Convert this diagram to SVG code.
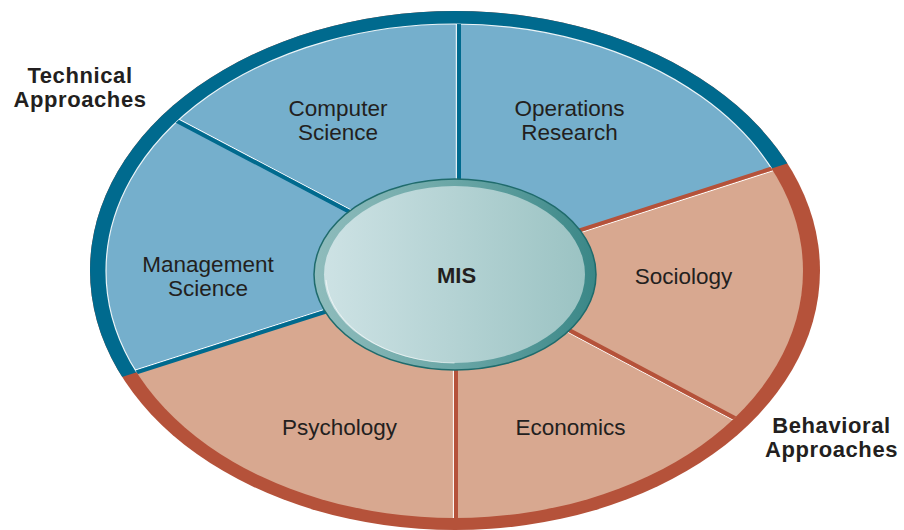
<svg xmlns="http://www.w3.org/2000/svg" width="904" height="530" viewBox="0 0 904 530">
  <defs>
    <clipPath id="outerClip"><ellipse cx="455" cy="270.5" rx="365" ry="259.5"/></clipPath>
    <clipPath id="innerClip"><ellipse cx="454.5" cy="271" rx="348.5" ry="247"/></clipPath>
    <clipPath id="blueHalf"><polygon points="0,0 904,0 904,126 0,416"/></clipPath>
    <linearGradient id="rimGrad" x1="0" y1="0" x2="1" y2="0">
      <stop offset="0" stop-color="#8fbcbc"/>
      <stop offset="0.5" stop-color="#6aa6a6"/>
      <stop offset="1" stop-color="#3a8787"/>
    </linearGradient>
    <linearGradient id="coreGrad" x1="0" y1="0" x2="1" y2="0">
      <stop offset="0" stop-color="#cde2e4"/>
      <stop offset="1" stop-color="#9bc3c3"/>
    </linearGradient>
  </defs>
  <style>
    .blue { fill: #75afcc; }
    .salmon { fill: #d8a890; }
    .lbl { font-family: "Liberation Sans", Arial, sans-serif; font-size: 22.5px; fill: #231f20; text-anchor: middle; }
    .bold { font-weight: bold; font-size: 22px; }
    .side { font-family: "Liberation Sans", Arial, sans-serif; font-size: 22px; font-weight: bold; fill: #231f20; text-anchor: middle; letter-spacing: 0.6px; }
    .spokeB { stroke: #006a8e; stroke-width: 4; fill: none; }
    .spokeR { stroke: #b5523a; stroke-width: 4; fill: none; }
    .hl { stroke: #ffffff; stroke-width: 1; fill: none; }
  </style>

  <!-- outer band -->
  <g id="band">
    <ellipse cx="455" cy="270.5" rx="365" ry="259.5" fill="#b5523a"/>
    <polygon points="0,0 904,0 904,126 0,416" fill="#006a8e" clip-path="url(#outerClip)"/>
  </g>

  <!-- sectors -->
  <g clip-path="url(#innerClip)">
    <g id="operations-research">
      <polygon class="blue" points="456,270 458,0 904,0 904,126"/>
      <text class="lbl" x="569.5" y="116">Operations</text>
      <text class="lbl" x="569.5" y="139.5">Research</text>
    </g>
    <g id="sociology">
      <polygon class="salmon" points="456,270 904,126 904,508"/>
      <text class="lbl" x="683.5" y="284">Sociology</text>
    </g>
    <g id="economics">
      <polygon class="salmon" points="456,270 904,508 904,530 456,530"/>
      <text class="lbl" x="570.5" y="435">Economics</text>
    </g>
    <g id="psychology">
      <polygon class="salmon" points="456,270 456,530 0,530 0,416"/>
      <text class="lbl" x="339.5" y="435">Psychology</text>
    </g>
    <g id="management-science">
      <polygon class="blue" points="456,270 0,416 0,28"/>
      <text class="lbl" x="208" y="271.5">Management</text>
      <text class="lbl" x="208" y="295.5">Science</text>
    </g>
    <g id="computer-science">
      <polygon class="blue" points="456,270 0,28 0,0 458,0"/>
      <text class="lbl" x="338" y="116">Computer</text>
      <text class="lbl" x="338" y="139.5">Science</text>
    </g>
  </g>

  <!-- inner edge highlight on blue band -->
  <g clip-path="url(#blueHalf)">
    <ellipse cx="454.5" cy="271" rx="348.5" ry="247" fill="none" stroke="#ffffff" stroke-width="1.2" opacity="0.9"/>
  </g>

  <!-- dividers -->
  <g id="connectors" clip-path="url(#innerClip)">
    <line class="hl" x1="456.3" y1="0" x2="456.3" y2="270"/>
    <line class="spokeB" x1="459" y1="0" x2="459" y2="270"/>

    <line class="hl" x1="1.2" y1="25.6" x2="457.2" y2="265.8"/>
    <line class="spokeB" x1="0" y1="27.8" x2="456" y2="268"/>

    <line class="hl" x1="-0.8" y1="413.6" x2="455.2" y2="267.6"/>
    <line class="spokeB" x1="0" y1="416" x2="456" y2="270"/>

    <line class="hl" x1="456.8" y1="272.4" x2="904.8" y2="128.4"/>
    <line class="spokeR" x1="456" y1="270" x2="904" y2="126"/>

    <line class="hl" x1="454.8" y1="272.2" x2="902.8" y2="510.2"/>
    <line class="spokeR" x1="456" y1="270" x2="904" y2="508"/>

    <line class="hl" x1="453.4" y1="270" x2="453.4" y2="530"/>
    <line class="spokeR" x1="456" y1="270" x2="456" y2="530"/>
  </g>

  <!-- MIS hub -->
  <g id="mis">
    <ellipse cx="455" cy="274.5" rx="141" ry="95.5" fill="url(#rimGrad)" stroke="#1f6b6c" stroke-width="1.5"/>
    <ellipse cx="454.5" cy="274.5" rx="130.5" ry="88.5" fill="url(#coreGrad)"/>
    <path d="M 326 280 A 130.5 88.5 0 0 0 454.5 363" fill="none" stroke="#ffffff" stroke-width="1" opacity="0.6"/>
    <text class="lbl bold" x="456.5" y="282.5">MIS</text>
  </g>

  <!-- side labels -->
  <g id="technical-approaches">
    <text class="side" x="80" y="83">Technical</text>
    <text class="side" x="80" y="107">Approaches</text>
  </g>
  <g id="behavioral-approaches">
    <text class="side" x="831.5" y="433">Behavioral</text>
    <text class="side" x="831.5" y="457">Approaches</text>
  </g>
</svg>
